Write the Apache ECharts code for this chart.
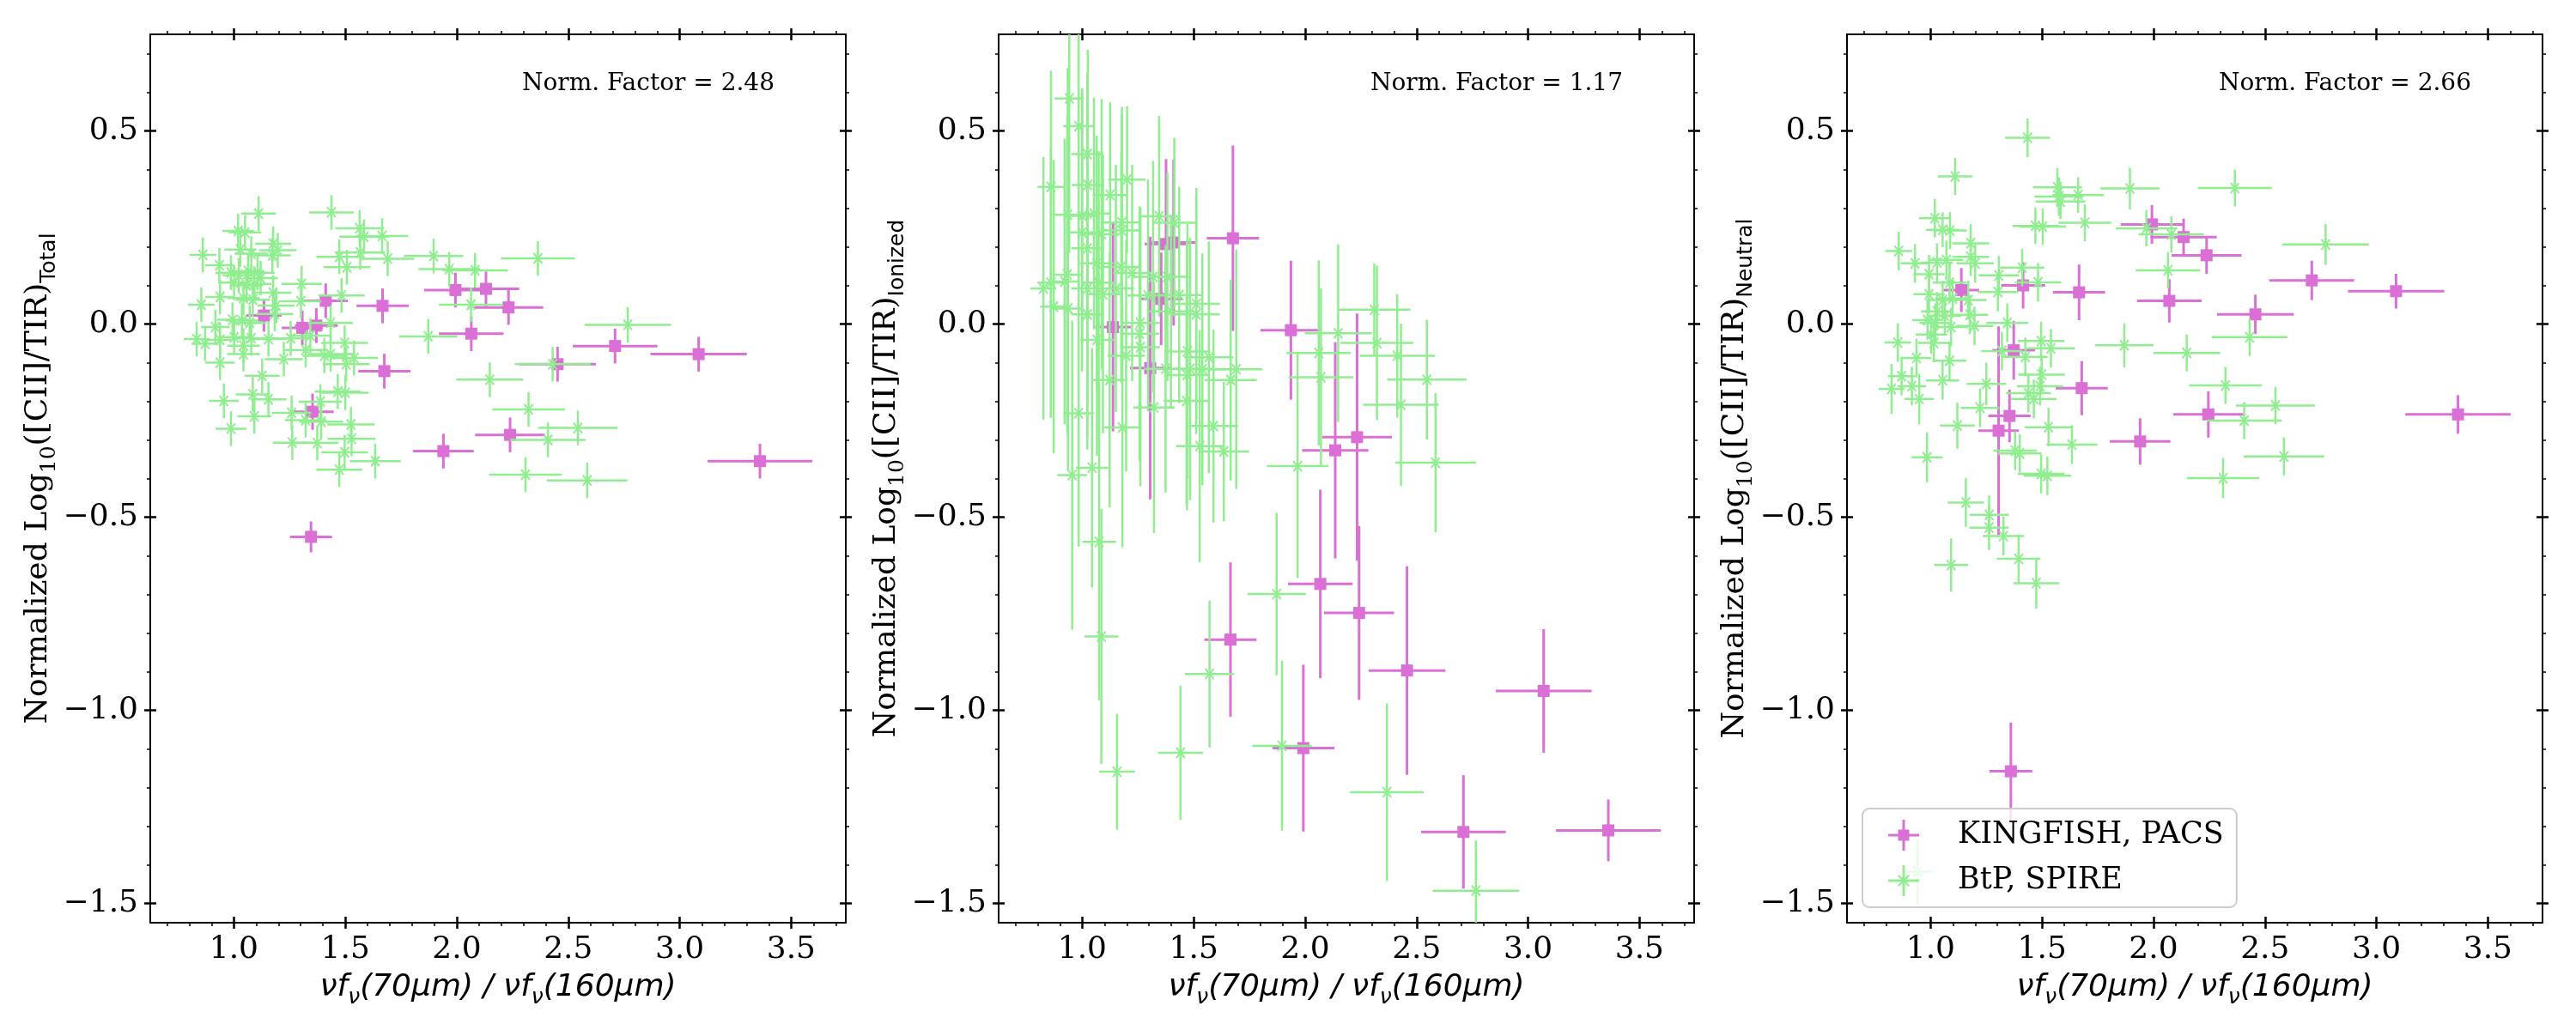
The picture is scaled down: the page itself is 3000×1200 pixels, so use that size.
<!DOCTYPE html>
<html>
<head>
<meta charset="utf-8">
<script src="https://cdn.jsdelivr.net/npm/echarts@6.0.0/dist/echarts.min.js"></script>
<style>
  html, body { margin: 0; padding: 0; background: #fff; }
  #chart { width: 3000px; height: 1200px; }
</style>
</head>
<body>
<div id="chart"></div>
<script>
// each point: [x, y, xerr, yerr]
// KINGFISH, PACS  (pink squares)
var kfTotal = [
  [1.135, 0.022, 0.079, 0.042], [1.307, -0.010, 0.092, 0.045], [1.370, -0.004, 0.096, 0.045],
  [1.412, 0.060, 0.099, 0.045], [1.353, -0.227, 0.095, 0.047], [1.667, 0.047, 0.117, 0.045],
  [1.675, -0.122, 0.117, 0.045], [1.994, 0.088, 0.140, 0.045], [2.131, 0.091, 0.149, 0.045],
  [2.232, 0.043, 0.156, 0.045], [2.065, -0.025, 0.145, 0.045], [2.452, -0.104, 0.172, 0.045],
  [2.710, -0.057, 0.190, 0.045], [3.085, -0.078, 0.216, 0.045], [2.239, -0.287, 0.157, 0.045],
  [1.940, -0.329, 0.136, 0.045], [3.360, -0.355, 0.235, 0.045], [1.346, -0.551, 0.094, 0.040]
];
var kfIonized = [
  [1.138, -0.008, 0.080, 0.27], [1.354, 0.065, 0.095, 0.12], [1.305, -0.114, 0.091, 0.34],
  [1.376, 0.207, 0.096, 0.22], [1.410, 0.211, 0.099, 0.215], [1.676, 0.222, 0.117, 0.24],
  [1.936, -0.016, 0.136, 0.18], [2.233, -0.293, 0.156, 0.32], [2.135, -0.327, 0.149, 0.28],
  [1.665, -0.817, 0.117, 0.20], [2.068, -0.673, 0.145, 0.244], [2.242, -0.748, 0.157, 0.225],
  [2.457, -0.897, 0.172, 0.27], [1.992, -1.098, 0.139, 0.216], [3.070, -0.950, 0.215, 0.16],
  [2.710, -1.315, 0.190, 0.147], [3.360, -1.311, 0.235, 0.08]
];
var kfNeutral = [
  [1.138, 0.088, 0.080, 0.057], [1.415, 0.100, 0.099, 0.060], [1.666, 0.082, 0.117, 0.072],
  [1.373, -0.068, 0.096, 0.076], [1.678, -0.166, 0.117, 0.070], [1.354, -0.238, 0.095, 0.068],
  [1.305, -0.276, 0.091, 0.270], [1.993, 0.258, 0.140, 0.050], [2.135, 0.225, 0.149, 0.048],
  [2.238, 0.178, 0.157, 0.048], [2.071, 0.060, 0.145, 0.056], [2.457, 0.025, 0.172, 0.051],
  [2.710, 0.113, 0.190, 0.051], [3.088, 0.085, 0.216, 0.045], [2.246, -0.234, 0.157, 0.060],
  [1.940, -0.304, 0.136, 0.060], [3.366, -0.234, 0.236, 0.050], [1.360, -1.158, 0.096, 0.126]
];

// BtP, SPIRE  (green stars)
var btpTotal = [
  [1.111, 0.286, 0.078, 0.045], [1.438, 0.289, 0.100, 0.045], [1.019, 0.241, 0.071, 0.045],
  [1.050, 0.237, 0.073, 0.045], [1.564, 0.248, 0.109, 0.047], [1.584, 0.226, 0.111, 0.045],
  [1.665, 0.228, 0.117, 0.046], [1.176, 0.208, 0.082, 0.045], [1.197, 0.191, 0.084, 0.045],
  [0.861, 0.179, 0.060, 0.045], [1.029, 0.193, 0.072, 0.045], [1.078, 0.182, 0.075, 0.045],
  [1.173, 0.178, 0.082, 0.045], [1.567, 0.185, 0.110, 0.045], [1.473, 0.174, 0.103, 0.045],
  [1.690, 0.169, 0.118, 0.045], [1.896, 0.176, 0.133, 0.045], [2.364, 0.170, 0.166, 0.045],
  [0.935, 0.152, 0.065, 0.045], [1.507, 0.147, 0.105, 0.045], [1.966, 0.142, 0.138, 0.045],
  [2.082, 0.139, 0.146, 0.045], [0.987, 0.133, 0.069, 0.045], [1.022, 0.126, 0.072, 0.045],
  [1.064, 0.137, 0.074, 0.045], [1.106, 0.133, 0.077, 0.045], [1.120, 0.119, 0.078, 0.045],
  [1.001, 0.107, 0.070, 0.045], [1.057, 0.100, 0.074, 0.045], [1.092, 0.104, 0.076, 0.045],
  [1.304, 0.104, 0.091, 0.047], [0.938, 0.070, 0.066, 0.045], [1.176, 0.081, 0.082, 0.045],
  [1.483, 0.074, 0.104, 0.045], [0.854, 0.050, 0.060, 0.045], [1.043, 0.067, 0.073, 0.045],
  [1.085, 0.063, 0.076, 0.045], [1.301, 0.059, 0.091, 0.045], [1.190, 0.048, 0.083, 0.045],
  [2.064, 0.050, 0.144, 0.045], [0.994, 0.011, 0.070, 0.045], [1.036, 0.009, 0.073, 0.045],
  [1.071, 0.003, 0.075, 0.045], [0.917, -0.008, 0.064, 0.045], [1.183, 0.026, 0.083, 0.045],
  [1.434, 0.003, 0.100, 0.045], [0.833, -0.039, 0.058, 0.045], [0.871, -0.051, 0.061, 0.045],
  [0.938, -0.041, 0.066, 0.045], [1.001, -0.034, 0.070, 0.045], [1.078, -0.037, 0.075, 0.045],
  [1.043, -0.056, 0.073, 0.045], [1.155, -0.039, 0.081, 0.045], [1.255, -0.037, 0.088, 0.045],
  [1.343, -0.030, 0.094, 0.045], [1.497, -0.049, 0.105, 0.045], [1.872, -0.032, 0.131, 0.045],
  [2.767, -0.002, 0.194, 0.046], [1.043, -0.078, 0.073, 0.045], [0.938, -0.100, 0.066, 0.045],
  [1.224, -0.091, 0.086, 0.045], [1.322, -0.067, 0.093, 0.045], [1.406, -0.082, 0.098, 0.045],
  [1.434, -0.078, 0.100, 0.045], [1.504, -0.104, 0.105, 0.045], [1.539, -0.088, 0.108, 0.045],
  [2.148, -0.144, 0.150, 0.045], [2.430, -0.104, 0.170, 0.045], [1.127, -0.134, 0.079, 0.045],
  [1.085, -0.182, 0.076, 0.045], [1.155, -0.195, 0.081, 0.045], [0.955, -0.199, 0.067, 0.045],
  [1.466, -0.175, 0.103, 0.045], [1.500, -0.178, 0.105, 0.045], [1.388, -0.201, 0.097, 0.045],
  [1.259, -0.230, 0.088, 0.045], [1.092, -0.239, 0.076, 0.045], [0.987, -0.271, 0.069, 0.045],
  [1.322, -0.249, 0.093, 0.045], [1.392, -0.253, 0.097, 0.045], [1.525, -0.260, 0.107, 0.045],
  [2.322, -0.221, 0.163, 0.045], [2.543, -0.269, 0.178, 0.045], [2.409, -0.300, 0.169, 0.045],
  [1.528, -0.297, 0.107, 0.045], [1.262, -0.307, 0.088, 0.045], [1.374, -0.308, 0.096, 0.045],
  [1.497, -0.332, 0.105, 0.045], [1.634, -0.355, 0.114, 0.045], [1.473, -0.377, 0.103, 0.045],
  [2.308, -0.390, 0.162, 0.045], [2.585, -0.405, 0.181, 0.046]
];
var btpIonized = [
  [0.942, 0.584, 0.066, 0.40], [0.984, 0.512, 0.069, 0.42], [1.023, 0.440, 0.072, 0.21],
  [0.860, 0.355, 0.060, 0.30], [1.201, 0.374, 0.084, 0.19], [1.125, 0.334, 0.079, 0.24],
  [1.025, 0.360, 0.072, 0.35], [0.935, 0.283, 0.065, 0.38], [1.053, 0.286, 0.074, 0.30],
  [1.345, 0.279, 0.094, 0.26], [1.413, 0.262, 0.099, 0.22], [1.177, 0.263, 0.082, 0.28],
  [1.178, 0.242, 0.082, 0.32], [0.999, 0.237, 0.070, 0.36], [1.023, 0.196, 0.072, 0.40],
  [1.065, 0.157, 0.075, 0.33], [1.175, 0.148, 0.082, 0.30], [1.224, 0.132, 0.086, 0.28],
  [0.933, 0.128, 0.065, 0.41], [0.921, 0.110, 0.064, 0.37], [0.859, 0.107, 0.060, 0.35],
  [0.826, 0.092, 0.058, 0.34], [1.318, 0.122, 0.092, 0.30], [1.382, 0.122, 0.097, 0.27],
  [1.023, 0.092, 0.072, 0.38], [1.093, 0.077, 0.077, 0.36], [0.872, 0.045, 0.061, 0.38],
  [0.936, 0.040, 0.066, 0.42], [1.023, 0.025, 0.072, 0.35], [1.295, 0.074, 0.091, 0.30],
  [1.435, 0.075, 0.100, 0.28], [1.398, 0.033, 0.098, 0.25], [1.512, 0.052, 0.106, 0.30],
  [1.257, -0.025, 0.088, 0.33], [1.066, -0.041, 0.075, 0.30], [1.261, -0.060, 0.088, 0.36],
  [1.197, -0.082, 0.084, 0.30], [1.472, -0.071, 0.103, 0.33], [1.568, -0.086, 0.110, 0.30],
  [1.484, -0.116, 0.104, 0.34], [1.374, -0.116, 0.096, 0.32], [1.539, -0.117, 0.108, 0.30],
  [1.691, -0.117, 0.118, 0.31], [1.666, -0.145, 0.117, 0.26], [1.470, -0.132, 0.103, 0.35],
  [1.123, -0.145, 0.079, 0.33], [1.468, -0.199, 0.103, 0.27], [1.322, -0.216, 0.093, 0.325],
  [0.984, -0.231, 0.069, 0.345], [1.180, -0.268, 0.083, 0.31], [1.589, -0.264, 0.111, 0.25],
  [1.527, -0.316, 0.107, 0.30], [1.635, -0.330, 0.114, 0.18], [1.044, -0.372, 0.073, 0.31],
  [0.955, -0.391, 0.067, 0.40], [2.310, 0.037, 0.162, 0.12], [2.148, -0.024, 0.150, 0.23],
  [2.322, -0.049, 0.163, 0.20], [2.061, -0.075, 0.144, 0.24], [2.413, -0.082, 0.169, 0.16],
  [2.071, -0.138, 0.145, 0.23], [2.546, -0.144, 0.178, 0.155], [2.430, -0.209, 0.170, 0.21],
  [1.966, -0.368, 0.138, 0.29], [2.585, -0.359, 0.181, 0.18], [1.076, -0.564, 0.075, 0.41],
  [1.086, -0.809, 0.076, 0.33], [1.156, -1.159, 0.081, 0.15], [1.441, -1.110, 0.101, 0.174],
  [1.571, -0.906, 0.110, 0.19], [1.872, -0.699, 0.131, 0.21], [1.896, -1.092, 0.133, 0.22],
  [2.367, -1.212, 0.166, 0.23], [2.766, -1.467, 0.194, 0.13], [1.000, 0.280, 0.070, 0.33],
  [1.087, 0.233, 0.076, 0.35], [1.074, 0.107, 0.075, 0.34], [1.151, 0.092, 0.081, 0.32],
  [1.511, 0.025, 0.106, 0.31], [1.260, 0.003, 0.088, 0.30]
];
var btpNeutral = [
  [1.435, 0.482, 0.101, 0.050], [1.110, 0.382, 0.078, 0.048], [1.569, 0.354, 0.110, 0.050],
  [1.894, 0.351, 0.133, 0.054], [2.365, 0.352, 0.166, 0.048], [1.576, 0.330, 0.110, 0.050],
  [1.662, 0.334, 0.116, 0.046], [1.583, 0.317, 0.111, 0.045], [1.019, 0.274, 0.071, 0.050],
  [1.470, 0.254, 0.103, 0.047], [1.503, 0.252, 0.105, 0.047], [1.692, 0.262, 0.118, 0.048],
  [1.968, 0.248, 0.138, 0.047], [2.080, 0.232, 0.146, 0.047], [1.054, 0.244, 0.074, 0.045],
  [1.087, 0.242, 0.076, 0.048], [0.857, 0.189, 0.060, 0.050], [1.180, 0.209, 0.083, 0.050],
  [0.930, 0.157, 0.065, 0.050], [1.029, 0.159, 0.072, 0.050], [1.071, 0.166, 0.075, 0.050],
  [1.180, 0.174, 0.083, 0.050], [1.200, 0.157, 0.084, 0.050], [1.411, 0.146, 0.099, 0.048],
  [2.772, 0.206, 0.194, 0.053], [2.065, 0.139, 0.145, 0.047], [0.993, 0.129, 0.070, 0.050],
  [1.306, 0.126, 0.091, 0.050], [1.482, 0.108, 0.104, 0.050], [1.085, 0.107, 0.076, 0.050],
  [0.993, 0.077, 0.070, 0.050], [1.302, 0.083, 0.091, 0.050], [1.054, 0.062, 0.074, 0.050],
  [1.099, 0.066, 0.077, 0.050], [1.169, 0.062, 0.082, 0.050], [1.029, 0.033, 0.072, 0.050],
  [1.064, 0.021, 0.074, 0.050], [1.176, 0.024, 0.082, 0.050], [1.344, 0.003, 0.094, 0.050],
  [0.986, 0.010, 0.069, 0.050], [1.022, 0.003, 0.072, 0.050], [1.092, -0.008, 0.076, 0.050],
  [1.197, -0.005, 0.084, 0.050], [0.853, -0.048, 0.060, 0.050], [1.015, -0.049, 0.071, 0.050],
  [1.003, -0.027, 0.070, 0.050], [1.320, -0.070, 0.092, 0.050], [1.496, -0.044, 0.105, 0.050],
  [1.540, -0.063, 0.108, 0.050], [1.425, -0.085, 0.100, 0.050], [1.869, -0.055, 0.131, 0.057],
  [2.149, -0.075, 0.150, 0.048], [2.431, -0.034, 0.170, 0.048], [0.937, -0.088, 0.066, 0.050],
  [1.085, -0.095, 0.076, 0.050], [0.870, -0.135, 0.061, 0.050], [0.916, -0.161, 0.064, 0.050],
  [0.825, -0.168, 0.058, 0.065], [1.054, -0.146, 0.074, 0.050], [0.949, -0.194, 0.066, 0.065],
  [1.250, -0.155, 0.088, 0.055], [1.498, -0.131, 0.105, 0.050], [1.491, -0.161, 0.104, 0.050],
  [1.439, -0.179, 0.101, 0.050], [1.463, -0.194, 0.102, 0.050], [2.323, -0.159, 0.163, 0.048],
  [2.547, -0.211, 0.178, 0.048], [2.407, -0.250, 0.168, 0.048], [1.222, -0.217, 0.086, 0.050],
  [1.120, -0.263, 0.078, 0.060], [1.529, -0.267, 0.107, 0.050], [1.634, -0.312, 0.114, 0.050],
  [0.984, -0.345, 0.069, 0.065], [1.379, -0.328, 0.097, 0.050], [1.400, -0.335, 0.098, 0.050],
  [1.496, -0.388, 0.105, 0.050], [1.524, -0.393, 0.107, 0.050], [2.585, -0.343, 0.181, 0.049],
  [2.312, -0.399, 0.162, 0.052], [1.158, -0.462, 0.081, 0.063], [1.263, -0.494, 0.088, 0.050],
  [1.262, -0.527, 0.088, 0.058], [1.327, -0.549, 0.093, 0.050], [1.395, -0.608, 0.098, 0.063],
  [1.092, -0.624, 0.076, 0.069], [1.474, -0.671, 0.103, 0.066], [0.942, -1.418, 0.063, 0.084]
];

var normFactors = ['2.48', '1.17', '2.66'];
var panelSubs = ['Total', 'Ionized', 'Neutral'];

var xMajor = [1.0, 1.5, 2.0, 2.5, 3.0, 3.5];
var xMinor = [0.7, 0.8, 0.9, 1.1, 1.2, 1.3, 1.4, 1.6, 1.7, 1.8, 1.9, 2.1, 2.2, 2.3, 2.4,
              2.6, 2.7, 2.8, 2.9, 3.1, 3.2, 3.3, 3.4, 3.6, 3.7];
var yMajor = [-1.5, -1.0, -0.5, 0.0, 0.5];
var yMinor = [-1.4, -1.3, -1.2, -1.1, -0.9, -0.8, -0.7, -0.6, -0.4, -0.3, -0.2, -0.1,
              0.1, 0.2, 0.3, 0.4, 0.6, 0.7];
var xRange = [0.625, 3.745];
var yRange = [-1.55, 0.75];

var PINK = '#da70d6';
var GREEN = '#90ee90';
var SERIF = 'DejaVu Serif';
var SANS = 'DejaVu Sans';

var gridLefts = [175, 1163, 2151];
var GRID_TOP = 40, GRID_W = 810, GRID_H = 1035;

var kfIcon = 'path://M0,16.5H36V19.5H0Z M16.5,0H19.5V36H16.5Z M11.5,11.5H24.5V24.5H11.5Z';
var btpIcon = 'path://M0,16.5H36V19.5H0Z M16.5,0H19.5V36H16.5Z ' +
  'M11,12.4L12.4,11L25,23.6L23.6,25Z M11,23.6L23.6,11L25,12.4L12.4,25Z';

function fmt(v) {
  var s = Math.abs(v).toFixed(1);
  return v < -1e-9 ? '\u2212' + s : s;
}

// one axis set per grid side: major out, major in, minor out
function makeAxes(g, dim) {
  var isX = dim === 'x';
  var major = isX ? xMajor : yMajor;
  var minor = isX ? xMinor : yMinor;
  var range = isX ? xRange : yRange;
  var sides = isX ? ['bottom', 'top'] : ['left', 'right'];
  var list = [];
  sides.forEach(function (side, si) {
    [[major, false, 7, 2.5], [major, true, 7, 2.5], [minor, false, 4, 1.5]].forEach(function (t, ti) {
      var ax = {
        type: 'value', gridIndex: g, position: side,
        min: range[0], max: range[1],
        axisLine: { show: ti === 0, onZero: false, lineStyle: { color: '#000', width: 2 } },
        axisTick: { show: true, inside: t[1], length: t[2], customValues: t[0],
                    lineStyle: { color: '#000', width: t[3] } },
        axisLabel: { show: false },
        splitLine: { show: false },
        axisPointer: { show: false }
      };
      if (si === 0 && ti === 0) {
        ax.axisLabel = {
          show: true, customValues: major, formatter: fmt, margin: 14,
          fontFamily: SERIF, fontSize: 36, color: '#000'
        };
        ax.nameLocation = 'middle';
        if (isX) {
          ax.name = '{i|\u03bdf}{s|\u03bd}{i|(70\u03bcm) / \u03bdf}{s|\u03bd}{i|(160\u03bcm)}';
          ax.nameGap = 52;
          ax.nameTextStyle = {
            color: '#000',
            rich: {
              i: { fontFamily: SANS, fontStyle: 'italic', fontSize: 36, lineHeight: 48, verticalAlign: 'middle', color: '#000' },
              s: { fontFamily: SANS, fontStyle: 'italic', fontSize: 25, lineHeight: 25, verticalAlign: 'bottom', color: '#000' }
            }
          };
        } else {
          ax.name = '{m|Normalized Log}{s|10}{m|([CII]/TIR)}{t|' + panelSubs[g] + '}';
          ax.nameGap = 81;
          ax.nameTextStyle = {
            color: '#000',
            rich: {
              m: { fontFamily: SERIF, fontSize: 36, lineHeight: 50, verticalAlign: 'middle', color: '#000' },
              s: { fontFamily: SERIF, fontSize: 25, lineHeight: 25, verticalAlign: 'bottom', color: '#000' },
              t: { fontFamily: SANS, fontSize: 25, lineHeight: 25, verticalAlign: 'bottom', color: '#000' }
            }
          };
        }
      }
      list.push(ax);
    });
  });
  return list;
}

function errItem(isKf) {
  return function (params, api) {
    var x = api.value(0), y = api.value(1), ex = api.value(2), ey = api.value(3);
    var c = api.coord([x, y]);
    var xl = api.coord([x - ex, y])[0], xr = api.coord([x + ex, y])[0];
    var yt = api.coord([x, y + ey])[1], yb = api.coord([x, y - ey])[1];
    var col = isKf ? PINK : GREEN;
    var lw = isKf ? 3 : 2.5;
    var kids = [
      { type: 'line', shape: { x1: xl, y1: c[1], x2: xr, y2: c[1] }, style: { stroke: col, lineWidth: lw } },
      { type: 'line', shape: { x1: c[0], y1: yt, x2: c[0], y2: yb }, style: { stroke: col, lineWidth: lw } }
    ];
    if (isKf) {
      kids.push({ type: 'rect', shape: { x: c[0] - 7, y: c[1] - 7, width: 14, height: 14 }, style: { fill: col } });
    } else {
      kids.push({ type: 'line', shape: { x1: c[0] - 5, y1: c[1] - 6, x2: c[0] + 5, y2: c[1] + 6 }, style: { stroke: col, lineWidth: 2 } });
      kids.push({ type: 'line', shape: { x1: c[0] - 5, y1: c[1] + 6, x2: c[0] + 5, y2: c[1] - 6 }, style: { stroke: col, lineWidth: 2 } });
    }
    return { type: 'group', children: kids };
  };
}

var kfSets = [kfTotal, kfIonized, kfNeutral];
var btpSets = [btpTotal, btpIonized, btpNeutral];

var grids = [], xAxes = [], yAxes = [], series = [], texts = [];
for (var g = 0; g < 3; g++) {
  grids.push({ left: gridLefts[g], top: GRID_TOP, width: GRID_W, height: GRID_H });
  xAxes = xAxes.concat(makeAxes(g, 'x'));
  yAxes = yAxes.concat(makeAxes(g, 'y'));
  series.push({
    name: 'KINGFISH, PACS', type: 'custom', xAxisIndex: g * 6, yAxisIndex: g * 6,
    renderItem: errItem(true), data: kfSets[g], encode: { x: 0, y: 1 },
    itemStyle: { color: PINK }, clip: true, z: 2, silent: true
  });
  series.push({
    name: 'BtP, SPIRE', type: 'custom', xAxisIndex: g * 6, yAxisIndex: g * 6,
    renderItem: errItem(false), data: btpSets[g], encode: { x: 0, y: 1 },
    itemStyle: { color: GREEN }, clip: true, z: 3, silent: true
  });
  texts.push({
    type: 'text', x: gridLefts[g] + GRID_W - 83, y: 98, z: 10,
    style: { text: 'Norm. Factor = ' + normFactors[g], fill: '#000',
             font: '28px "DejaVu Serif"', align: 'right', verticalAlign: 'middle' }
  });
}

var chart = echarts.init(document.getElementById('chart'), null, { renderer: 'canvas', width: 3000, height: 1200 });
chart.setOption({
  animation: false,
  backgroundColor: '#fff',
  grid: grids,
  xAxis: xAxes,
  yAxis: yAxes,
  legend: {
    data: [{ name: 'KINGFISH, PACS', icon: kfIcon }, { name: 'BtP, SPIRE', icon: btpIcon }],
    orient: 'vertical', left: 2169, top: 942,
    itemWidth: 36, itemHeight: 36, itemGap: 17,
    padding: [13, 15, 13, 30],
    backgroundColor: 'rgba(255,255,255,0.8)',
    borderColor: '#cccccc', borderWidth: 2, borderRadius: 8,
    selectedMode: false,
    textStyle: { fontFamily: SERIF, fontSize: 35, color: '#000', padding: [0, 0, 0, 40] }
  },
  graphic: texts,
  series: series
});
</script>
</body>
</html>
